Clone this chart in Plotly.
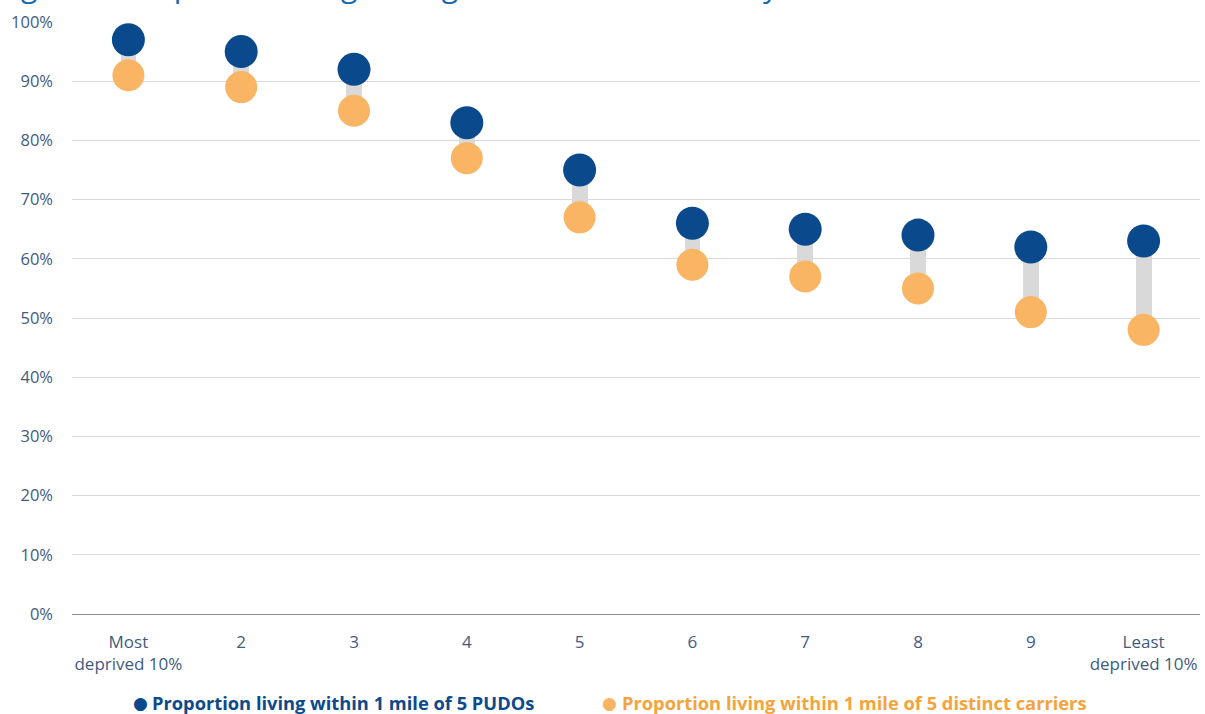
import plotly.graph_objects as go

# Deprivation deciles (most deprived -> least deprived)
deciles = ["Most<br>deprived 10%", "2", "3", "4", "5", "6", "7", "8", "9", "Least<br>deprived 10%"]

# Share of population (%) living within 1 mile of 5 PUDOs
pudos = [97, 95, 92, 83, 75, 66, 65, 64, 62, 63]
# Share of population (%) living within 1 mile of 5 distinct carriers
carriers = [91, 89, 85, 77, 67, 59, 57, 55, 51, 48]

y_ticks = [0, 10, 20, 30, 40, 50, 60, 70, 80, 90, 100]

BLUE = "#0a4a8c"
ORANGE = "#f9b563"
GAP = "#d9d9d9"
AXIS_TEXT = "#3f5b7f"
FONT = "Open Sans"

W, H = 1205, 714
L, R, T, B = 72, 5, 22, 100
PW, PH = W - L - R, H - T - B


def px_x(px):
    return (px - L) / PW


def px_y(py):
    return (H - B - py) / PH


fig = go.Figure()

# grey connector between the two measures in each decile
fig.add_trace(go.Bar(
    x=deciles,
    y=[p - c for p, c in zip(pudos, carriers)],
    base=carriers,
    width=0.14,
    marker=dict(color=GAP, line=dict(width=0)),
    hoverinfo="skip",
    showlegend=False,
))

fig.add_trace(go.Scatter(
    x=deciles, y=carriers, mode="markers",
    name="Proportion living within 1 mile of 5 distinct carriers",
    marker=dict(color=ORANGE, size=32, line=dict(width=0)),
    showlegend=False,
))

fig.add_trace(go.Scatter(
    x=deciles, y=pudos, mode="markers",
    name="Proportion living within 1 mile of 5 PUDOs",
    marker=dict(color=BLUE, size=33, line=dict(width=0)),
    showlegend=False,
))

# legend row under the axis
legend_items = [
    (140, 150, BLUE, "#0b4a8b", "Proportion living within 1 mile of 5 PUDOs"),
    (609, 620, ORANGE, "#f5a33c", "Proportion living within 1 mile of 5 distinct carriers"),
]
annotations = []
for dot_x, text_x, dot_col, txt_col, label in legend_items:
    annotations.append(dict(
        xref="paper", yref="paper", x=px_x(dot_x), y=px_y(703),
        xanchor="center", yanchor="middle", showarrow=False,
        text="●", font=dict(family="DejaVu Sans", size=17, color=dot_col),
    ))
    annotations.append(dict(
        xref="paper", yref="paper", x=px_x(text_x), y=px_y(703),
        xanchor="left", yanchor="middle", showarrow=False,
        text=f"<b>{label}</b>", font=dict(family=FONT, size=18.3, color=txt_col),
    ))

# chart heading, running off the top edge of the page
annotations.append(dict(
    xref="paper", yref="paper", x=px_x(-4), y=px_y(8),
    xanchor="left", yanchor="bottom", showarrow=False,
    text="Figure 3: Proportion living in neighbourhoods ranked by decile",
    font=dict(family=FONT, size=30, color="#1668b4"),
))

fig.update_layout(
    width=W, height=H,
    margin=dict(l=L, r=R, t=T, b=B),
    paper_bgcolor="white",
    plot_bgcolor="white",
    font=dict(family=FONT, size=16.5, color=AXIS_TEXT),
    bargap=0,
    annotations=annotations,
    showlegend=False,
)

fig.update_xaxes(
    type="category",
    range=[-0.5, 9.5],
    showgrid=False,
    showline=False,
    ticks="",
    ticklabelstandoff=16,
    tickfont=dict(family=FONT, size=17, color=AXIS_TEXT),
)

fig.update_yaxes(
    range=[0, 100],
    tickvals=y_ticks,
    ticktext=[f"{v}%" for v in y_ticks],
    showgrid=True,
    gridcolor="#d9d9d9",
    gridwidth=1,
    zeroline=True,
    zerolinecolor="#8c8c8c",
    zerolinewidth=1,
    ticks="",
    ticklabelstandoff=18,
    tickfont=dict(family=FONT, size=16.5, color=AXIS_TEXT),
)

fig.write_html("out.html")
